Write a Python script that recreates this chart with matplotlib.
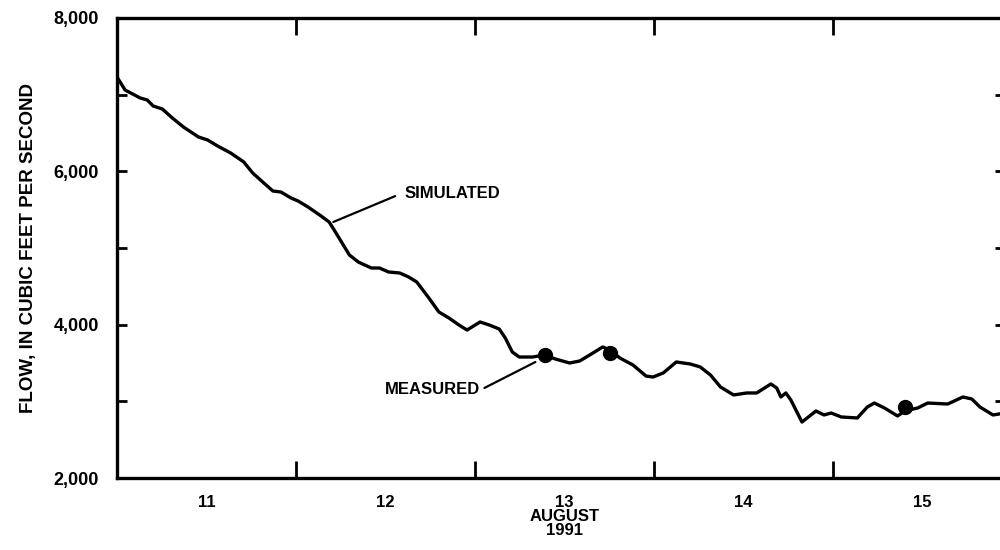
import numpy as np
import matplotlib.pyplot as plt
from matplotlib.ticker import FixedLocator, NullFormatter

plt.rcParams['font.family'] = ['Liberation Sans', 'DejaVu Sans']
plt.rcParams['font.weight'] = 'bold'

# days since start of August 11, 1991
sim_day = [0.000, 0.045, 0.129, 0.169, 0.202, 0.253, 0.309, 0.371, 0.455, 0.506,
           0.562, 0.635, 0.708, 0.758, 0.820, 0.871, 0.916, 0.972, 1.011, 1.067,
           1.140, 1.185, 1.213, 1.298, 1.348, 1.421, 1.466, 1.517, 1.579, 1.629,
           1.674, 1.742, 1.798, 1.854, 1.910, 1.955, 1.983, 2.028, 2.079, 2.135,
           2.169, 2.208, 2.247, 2.320, 2.388, 2.449, 2.528, 2.584, 2.640, 2.713,
           2.753, 2.809, 2.882, 2.955, 2.994, 3.051, 3.124, 3.202, 3.258, 3.315,
           3.371, 3.444, 3.517, 3.573, 3.652, 3.685, 3.708, 3.736, 3.764, 3.826,
           3.904, 3.949, 3.989, 4.045, 4.135, 4.191, 4.230, 4.287, 4.360, 4.399,
           4.472, 4.528, 4.640, 4.725, 4.775, 4.820, 4.893, 4.961]
sim_flow = [7230, 7061, 6957, 6930, 6852, 6813, 6696, 6578, 6448, 6409,
            6330, 6239, 6122, 5978, 5848, 5743, 5730, 5652, 5613, 5535,
            5417, 5339, 5235, 4909, 4817, 4739, 4739, 4687, 4674, 4622,
            4557, 4348, 4165, 4087, 3996, 3930, 3970, 4035, 3996, 3943,
            3826, 3643, 3578, 3578, 3604, 3552, 3500, 3526, 3604, 3709,
            3670, 3565, 3474, 3330, 3317, 3370, 3513, 3487, 3448, 3343,
            3187, 3083, 3109, 3109, 3226, 3174, 3057, 3109, 3017, 2730,
            2874, 2822, 2848, 2796, 2783, 2926, 2978, 2913, 2809, 2874,
            2913, 2978, 2965, 3057, 3030, 2926, 2822, 2848]

meas_day = [2.388, 2.753, 4.399]
meas_flow = [3604, 3630, 2926]

day_labels = ['11', '12', '13\nAUGUST\n1991', '14', '15']

fig = plt.figure(figsize=(10, 5.5), dpi=100)
ax = fig.add_axes([0.117, 0.1309, 0.888, 0.8364])

ax.plot(sim_day, sim_flow, color='black', lw=2.4, solid_joinstyle='round')
ax.plot(meas_day, meas_flow, 'o', color='black', ms=10)

ax.set_xlim(0, 4.96)
ax.set_ylim(2000, 8000)

# day boundaries as ticks, day names centred between them
ax.xaxis.set_major_locator(FixedLocator([1, 2, 3, 4]))
ax.xaxis.set_major_formatter(NullFormatter())
ax.xaxis.set_minor_locator(FixedLocator(np.arange(5) + 0.5))
ax.set_xticklabels(day_labels, minor=True, fontsize=12, fontweight='bold',
                   linespacing=0.92)
ax.tick_params(axis='x', which='major', direction='in', length=12, width=2,
               top=True, bottom=True)
ax.tick_params(axis='x', which='minor', length=0, pad=12)

ax.set_yticks([2000, 3000, 4000, 5000, 6000, 7000, 8000])
ax.set_yticklabels(['2,000', '', '4,000', '', '6,000', '', '8,000'])
ax.tick_params(axis='y', direction='in', length=7, width=2, left=True, right=True,
               pad=13, labelsize=13)

for s in ax.spines.values():
    s.set_linewidth(2.4)

ax.set_ylabel('FLOW, IN CUBIC FEET PER SECOND', fontsize=13.5, fontweight='bold',
              labelpad=12)

ax.annotate('SIMULATED', xy=(1.208, 5339), xytext=(1.605, 5717),
            fontsize=12, va='center', ha='left',
            arrowprops=dict(arrowstyle='-', color='black', lw=1.6,
                            relpos=(0, 0.55), shrinkA=5, shrinkB=0))
ax.annotate('MEASURED', xy=(2.337, 3513), xytext=(2.03, 3148),
            fontsize=12, va='center', ha='right',
            arrowprops=dict(arrowstyle='-', color='black', lw=1.6,
                            relpos=(1, 0.5), shrinkA=1, shrinkB=0))

fig.savefig('out.png', dpi=100)
